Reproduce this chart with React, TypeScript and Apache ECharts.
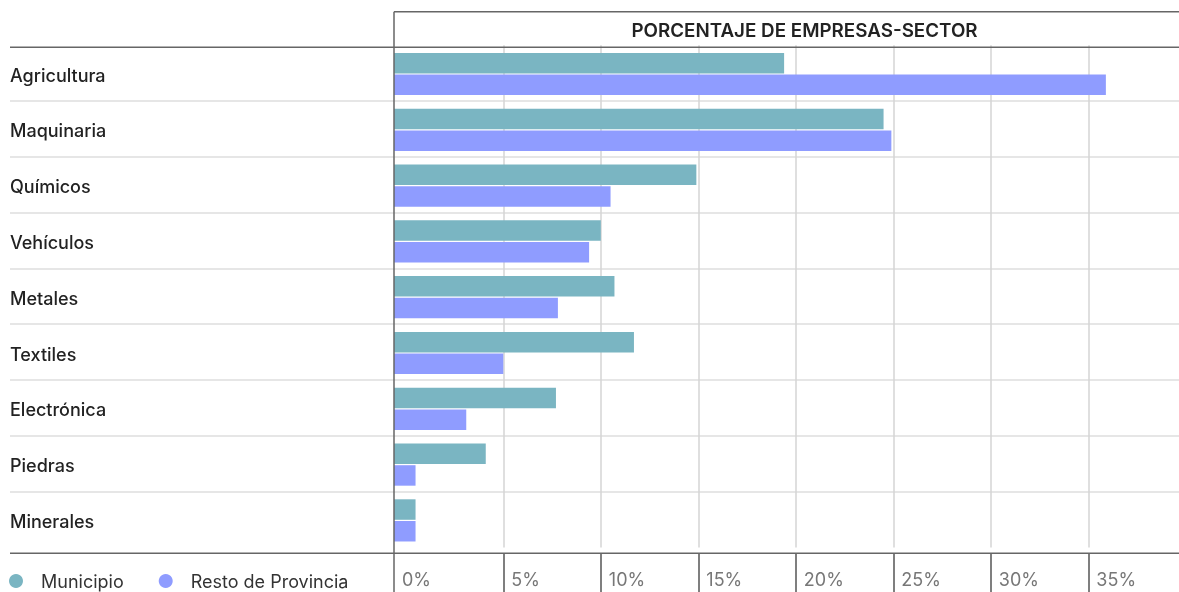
import React, { useEffect, useRef } from 'react';
import * as echarts from 'echarts';

const CATEGORIES = ['Agricultura', 'Maquinaria', 'Químicos', 'Vehículos', 'Metales', 'Textiles', 'Electrónica', 'Piedras', 'Minerales'];
const MUNICIPIO = [19.4, 24.5, 14.9, 10.0, 10.7, 11.7, 7.7, 4.1, 0.5];
const RESTO = [35.9, 24.9, 10.5, 9.4, 7.8, 5.0, 3.1, 0.5, 0.5];
const TICKS = [5, 10, 15, 20, 25, 30, 35];
const SERIES_NAMES = ['Municipio', 'Resto de Provincia'];
const COLORS = ['#7AB5C2', '#8F9CFF'];
const TITLE = 'PORCENTAJE DE EMPRESAS-SECTOR';

const X_MIN = -0.605;
const X_MAX = 39.65;

export default function App() {
  const ref = useRef<HTMLDivElement>(null);
  useEffect(() => {
    const chart = echarts.init(ref.current as HTMLDivElement, null, { renderer: 'svg' });
    const font = 'Inter, "Noto Sans", sans-serif';
    const makeSeries = (name: string, values: number[], color: string, side: number) => ({
      type: 'custom',
      name,
      xAxisIndex: 0,
      yAxisIndex: 0,
      itemStyle: { color },
      encode: { x: 0, y: 1 },
      data: values.map((v, i) => [v, i]),
      renderItem: (params: any, api: any) => {
        const v = api.value(0);
        const idx = api.value(1);
        const start = api.coord([X_MIN, idx]);
        const end = api.coord([v, idx]);
        const band = api.size([0, 1])[1];
        const h = band * 0.367;
        const y = side === 0 ? start[1] - band * 0.362 : start[1] + band * 0.027;
        return {
          type: 'rect',
          shape: { x: start[0], y, width: end[0] - start[0], height: h },
          style: { fill: color },
        };
      },
    });
    const rowSplit = { show: true, showMinLine: false, showMaxLine: false, lineStyle: { color: '#dedede', width: 1.5 } };
    const dark = { stroke: '#666', lineWidth: 1.5 };
    chart.setOption({
      animation: false,
      grid: [
        { left: 394, right: 0, top: 45.2, bottom: 44.6 },
        { left: 10, width: 384, top: 45.2, bottom: 44.6 },
      ],
      xAxis: [
        {
          gridIndex: 0,
          type: 'value',
          min: X_MIN,
          max: X_MAX,
          offset: 6,
          axisLine: { show: false },
          axisTick: { show: true, customValues: TICKS, length: 39, lineStyle: { color: '#555', width: 1.5 } },
          axisLabel: {
            customValues: [X_MIN, ...TICKS],
            formatter: (v: number) => (v < 0 ? 0 : Math.round(v)) + '%',
            align: 'left',
            padding: [0, 0, 0, 8],
            margin: 17,
            color: '#777',
            fontSize: 18,
            fontFamily: font,
          },
          splitLine: { show: true, lineStyle: { color: '#d4d4d4', width: 1.5 } },
        },
        { gridIndex: 1, type: 'value', show: false },
      ],
      yAxis: [
        {
          gridIndex: 0,
          type: 'category',
          inverse: true,
          data: CATEGORIES,
          axisLine: { show: false },
          axisTick: { show: false },
          axisLabel: { show: false },
          splitLine: rowSplit,
        },
        {
          gridIndex: 1,
          type: 'category',
          inverse: true,
          data: CATEGORIES,
          axisLine: { show: false },
          axisTick: { show: false },
          axisLabel: {
            inside: true,
            margin: 0,
            verticalAlign: 'top',
            lineHeight: 4,
            color: '#222',
            fontSize: 18,
            fontWeight: 500,
            fontFamily: font,
          },
          splitLine: rowSplit,
        },
      ],
      legend: {
        left: 4,
        top: 566,
        icon: 'circle',
        itemWidth: 14,
        itemHeight: 14,
        itemGap: 35,
        data: SERIES_NAMES,
        textStyle: { fontSize: 18, color: '#333', fontFamily: font, padding: [0, 0, 0, 13], lineHeight: 20 },
      },
      graphic: [
        { type: 'line', z: 100, shape: { x1: 394, y1: 11.7, x2: 394, y2: 592 }, style: dark },
        { type: 'line', z: 100, shape: { x1: 394, y1: 11.7, x2: 1179, y2: 11.7 }, style: dark },
        { type: 'line', z: 100, shape: { x1: 10, y1: 47.3, x2: 1179, y2: 47.3 }, style: dark },
        { type: 'line', z: 100, shape: { x1: 10, y1: 553.3, x2: 1179, y2: 553.3 }, style: dark },
        {
          type: 'text',
          z: 100,
          x: 804.5,
          y: 30,
          style: { text: TITLE, fill: '#222', font: '600 18.8px Inter, "Noto Sans", sans-serif', textAlign: 'center', textVerticalAlign: 'middle' },
        },
      ],
      series: [
        makeSeries(SERIES_NAMES[0], MUNICIPIO, COLORS[0], 0),
        makeSeries(SERIES_NAMES[1], RESTO, COLORS[1], 1),
      ],
    });
    return () => chart.dispose();
  }, []);
  return <div ref={ref} style={{ position: 'fixed', left: 0, top: 0, width: 1179, height: 592 }} />;
}
